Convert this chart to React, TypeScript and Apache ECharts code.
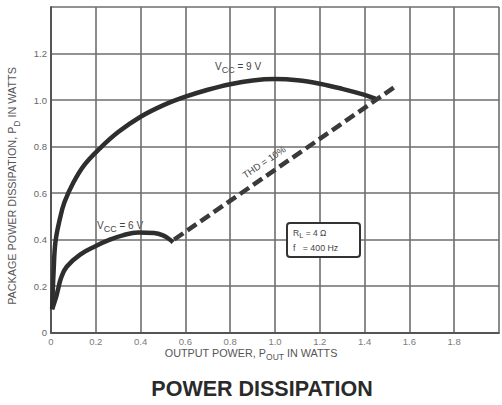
import React, { useEffect, useRef } from "react";
import * as echarts from "echarts";

const xTicks = [0, 0.2, 0.4, 0.6, 0.8, 1.0, 1.2, 1.4, 1.6, 1.8, 2.0];
const yTicks = [0, 0.2, 0.4, 0.6, 0.8, 1.0, 1.2, 1.4];

const vcc9: [number, number][] = [
  [0.005, 0.1], [0.012, 0.27], [0.02, 0.39], [0.04, 0.49], [0.06, 0.56], [0.1, 0.645],
  [0.15, 0.722], [0.216, 0.79], [0.3, 0.862], [0.4, 0.928], [0.5, 0.977], [0.6, 1.014],
  [0.7, 1.044], [0.8, 1.068], [0.9, 1.084], [1.0, 1.09], [1.1, 1.085], [1.2, 1.07],
  [1.3, 1.048], [1.4, 1.022], [1.45, 1.005],
];

const vcc6: [number, number][] = [
  [0.005, 0.1], [0.022, 0.15], [0.03, 0.18], [0.045, 0.235], [0.07, 0.283], [0.13, 0.335],
  [0.2, 0.372], [0.26, 0.398], [0.32, 0.418], [0.39, 0.43], [0.46, 0.428], [0.5, 0.418],
  [0.53, 0.4], [0.545, 0.388],
];

const thd10: [number, number][] = [
  [0.55, 0.4], [1.53, 1.053],
];

const GRID = "#6e6e6e";
const INK = "#2e2e2e";
const LABEL = "#7a7a7a";

export default function App() {
  const ref = useRef<HTMLDivElement>(null);
  useEffect(() => {
    if (!ref.current) return;
    const chart = echarts.init(ref.current, null, { renderer: "svg" });
    const font = "Liberation Sans, Arial, sans-serif";
    chart.setOption({
      animation: false,
      backgroundColor: "#fff",
      grid: { left: 51, top: 7, width: 457, height: 325.5 },
      xAxis: {
        type: "value",
        min: 0,
        max: 2.0,
        interval: 0.2,
        axisLine: { show: true, lineStyle: { color: "#555", width: 2 } },
        axisTick: { show: false },
        splitLine: { show: true, lineStyle: { color: GRID, width: 1.6 } },
        axisLabel: {
          color: LABEL,
          fontSize: 9.5,
          fontFamily: font,
          margin: 4,
          formatter: (v: number) => {
            const t = xTicks.find((k) => Math.abs(k - v) < 1e-6);
            if (t === undefined || t >= 2) return "";
            return t === 0 ? "0" : t.toFixed(1);
          },
        },
      },
      yAxis: {
        type: "value",
        min: 0,
        max: 1.4,
        interval: 0.2,
        axisLine: { show: true, lineStyle: { color: "#555", width: 2 } },
        axisTick: { show: false },
        splitLine: { show: true, lineStyle: { color: GRID, width: 1.6 } },
        axisLabel: {
          color: "#666",
          fontSize: 9.5,
          fontFamily: font,
          margin: 4,
          formatter: (v: number) => {
            const t = yTicks.find((k) => Math.abs(k - v) < 1e-6);
            if (t === undefined || t > 1.3) return "";
            return t === 0 ? "0" : t.toFixed(1);
          },
        },
      },
      series: [
        {
          type: "line",
          data: vcc9,
          smooth: 0.4,
          showSymbol: false,
          lineStyle: { color: INK, width: 4.5 },
        },
        {
          type: "line",
          data: vcc6,
          smooth: 0.4,
          showSymbol: false,
          lineStyle: { color: INK, width: 4.5 },
        },
        {
          type: "line",
          data: thd10,
          showSymbol: false,
          lineStyle: { color: "#3a3a3a", width: 4.5, type: [11, 5] },
        },
      ],
      graphic: [
        {
          type: "text",
          x: 12,
          y: 186,
          rotation: Math.PI / 2,
          style: {
            text: "{a|PACKAGE POWER DISSIPATION, P}{s|D}{a| IN WATTS}",
            align: "center",
            verticalAlign: "middle",
            rich: {
              a: { fontSize: 10.8, fill: "#555", fontFamily: font },
              s: { fontSize: 8.5, fill: "#555", fontFamily: font, padding: [9, 0, 0, 0] },
            },
          },
        },
        {
          type: "text",
          x: 251,
          y: 353,
          style: {
            text: "{a|OUTPUT POWER, P}{s|OUT}{a| IN WATTS}",
            align: "center",
            verticalAlign: "middle",
            rich: {
              a: { fontSize: 10.8, fill: "#555", fontFamily: font },
              s: { fontSize: 8.5, fill: "#555", fontFamily: font, padding: [7, 0, 0, 0] },
            },
          },
        },
        {
          type: "text",
          x: 262,
          y: 389,
          style: {
            text: "POWER DISSIPATION",
            align: "center",
            verticalAlign: "middle",
            fontSize: 21.5,
            fontWeight: "bold",
            fill: "#2a2a2a",
            fontFamily: font,
          },
        },
        {
          type: "text",
          x: 215,
          y: 66,
          style: {
            text: "{a|V}{s|CC}{a| = 9 V}",
            verticalAlign: "middle",
            rich: {
              a: { fontSize: 10, fill: "#444", fontFamily: font },
              s: { fontSize: 9, fill: "#444", fontFamily: font, padding: [8, 0, 0, 0] },
            },
          },
        },
        {
          type: "text",
          x: 97,
          y: 225,
          style: {
            text: "{a|V}{s|CC}{a| = 6 V}",
            verticalAlign: "middle",
            rich: {
              a: { fontSize: 10, fill: "#444", fontFamily: font },
              s: { fontSize: 9, fill: "#444", fontFamily: font, padding: [8, 0, 0, 0] },
            },
          },
        },
        {
          type: "text",
          x: 264,
          y: 162,
          z: 100,
          rotation: (34 * Math.PI) / 180,
          style: {
            text: "THD = 10%",
            align: "center",
            verticalAlign: "middle",
            fontSize: 9.5,
            fill: "#444",
            fontFamily: font,
          },
        },
        {
          type: "rect",
          z: 100,
          shape: { x: 287, y: 223, width: 73, height: 34, r: 3 },
          style: { fill: "#fff", stroke: "#333", lineWidth: 2 },
        },
        {
          type: "text",
          z: 101,
          x: 293,
          y: 233,
          style: {
            text: "{a|R}{s|L}{a| = 4 Ω}",
            verticalAlign: "middle",
            rich: {
              a: { fontSize: 8.5, fill: "#444", fontFamily: font },
              s: { fontSize: 7.5, fill: "#444", fontFamily: font, padding: [5, 0, 0, 0] },
            },
          },
        },
        {
          type: "text",
          z: 101,
          x: 293,
          y: 248,
          style: {
            text: "f   = 400 Hz",
            verticalAlign: "middle",
            fontSize: 8.8,
            fill: "#444",
            fontFamily: font,
          },
        },
      ],
    });
    return () => chart.dispose();
  }, []);
  return (
    <div
      ref={ref}
      style={{ position: "absolute", left: 0, top: 0, width: 502, height: 405 }}
    />
  );
}
